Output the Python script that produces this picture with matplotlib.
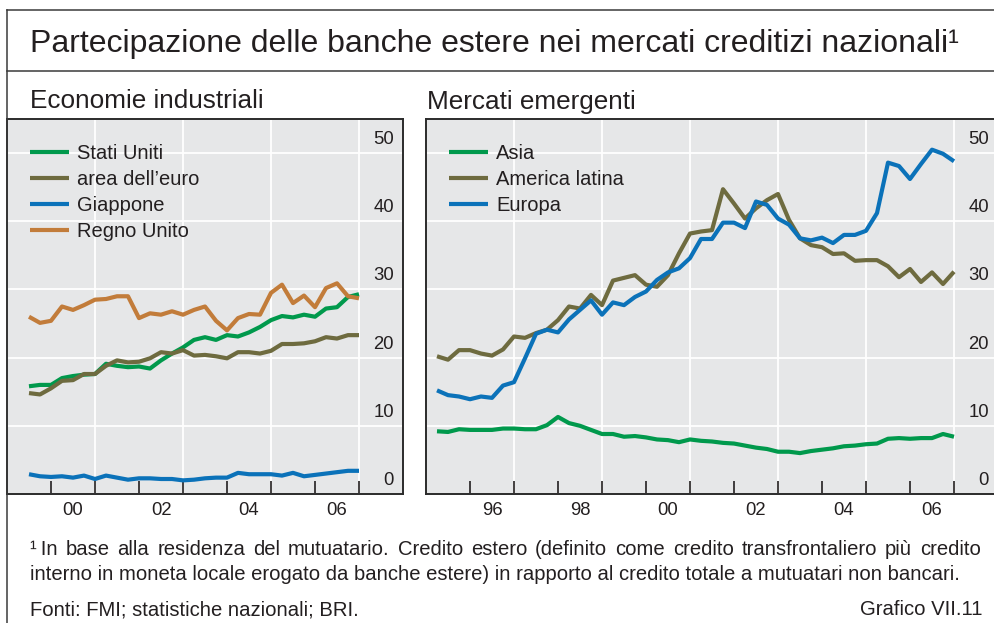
import numpy as np
import matplotlib.pyplot as plt
import matplotlib.transforms as mtransforms
from matplotlib.lines import Line2D

plt.rcParams['font.family'] = ['Liberation Sans', 'DejaVu Sans']

# --- dati: quota di credito estero, % ---
# economie industriali, trimestrale 1999 T3 - 2007 T1
ind_quarters = 1999.5 + 0.25 * np.arange(31)
stati_uniti = [15.8, 16.0, 16.0, 17.0, 17.3, 17.5, 17.6, 19.1, 18.8, 18.6, 18.7,
               18.4, 19.6, 20.6, 21.5, 22.6, 23.0, 22.6, 23.3, 23.1, 23.7, 24.5,
               25.5, 26.1, 25.9, 26.3, 26.0, 27.2, 27.4, 28.9, 29.3]
area_euro = [14.8, 14.6, 15.5, 16.6, 16.7, 17.6, 17.6, 18.8, 19.6, 19.3, 19.4,
             19.9, 20.8, 20.6, 21.1, 20.3, 20.4, 20.2, 19.9, 20.8, 20.8, 20.6,
             21.0, 22.0, 22.0, 22.1, 22.4, 23.0, 22.8, 23.3, 23.3]
giappone = [2.9, 2.6, 2.5, 2.6, 2.4, 2.7, 2.2, 2.7, 2.4, 2.1, 2.3, 2.3, 2.2, 2.2,
            2.0, 2.1, 2.3, 2.4, 2.4, 3.1, 2.9, 2.9, 2.9, 2.7, 3.1, 2.6, 2.8, 3.0,
            3.2, 3.4, 3.4]
regno_unito = [26.0, 25.1, 25.4, 27.5, 27.0, 27.7, 28.5, 28.6, 29.0, 29.0, 25.8,
               26.5, 26.3, 26.8, 26.3, 27.0, 27.5, 25.4, 24.0, 25.8, 26.4, 26.3,
               29.5, 30.7, 28.0, 29.1, 27.4, 30.2, 30.9, 29.0, 28.7]

# mercati emergenti, trimestrale 1995 T2 - 2007 T1
em_quarters = 1995.25 + 0.25 * np.arange(48)
asia = [9.2, 9.1, 9.5, 9.4, 9.4, 9.4, 9.6, 9.6, 9.5, 9.5, 10.1, 11.3, 10.4, 10.0,
        9.4, 8.8, 8.8, 8.4, 8.5, 8.3, 8.0, 7.9, 7.6, 8.0, 7.8, 7.7, 7.5, 7.4,
        7.1, 6.8, 6.6, 6.2, 6.2, 6.0, 6.3, 6.5, 6.7, 7.0, 7.1, 7.3, 7.4, 8.1,
        8.2, 8.1, 8.2, 8.2, 8.8, 8.4]
america_latina = [20.2, 19.7, 21.1, 21.1, 20.6, 20.3, 21.2, 23.1, 22.9, 23.6, 24.1,
                  25.5, 27.5, 27.2, 29.2, 27.7, 31.3, 31.7, 32.1, 30.7, 30.4, 32.1,
                  35.3, 38.2, 38.5, 38.7, 44.7, 42.6, 40.4, 41.9, 43.1, 44.0, 40.2,
                  37.5, 36.5, 36.2, 35.2, 35.3, 34.2, 34.3, 34.3, 33.4, 31.8, 33.0,
                  31.1, 32.5, 30.8, 32.6]
europa = [15.2, 14.5, 14.3, 13.9, 14.3, 14.1, 15.9, 16.4, 19.9, 23.5, 24.1, 23.7,
          25.6, 27.0, 28.4, 26.3, 28.1, 27.7, 28.9, 29.7, 31.4, 32.5, 33.1, 34.6,
          37.4, 37.4, 39.8, 39.8, 39.0, 42.9, 42.4, 40.4, 39.5, 37.5, 37.2, 37.6,
          36.8, 38.0, 38.0, 38.6, 41.2, 48.6, 48.1, 46.2, 48.4, 50.5, 49.9, 48.8]

y_ticks = [0, 10, 20, 30, 40, 50]

GREEN = '#00994C'
OLIVE = '#6E6B3F'
BLUE = '#0B72B9'
ORANGE = '#C27C3A'
TXT = '#231F20'
BG = '#E6E7E8'

W, H = 994, 623
fig = plt.figure(figsize=(W / 100, H / 100), dpi=100)


def panel(left_px, width_px, x0, first_tick, series, labels, colors):
    ax = fig.add_axes([left_px / W, 1 - 494 / H, width_px / W, 375 / H])
    ax.set_facecolor(BG)
    for y, lab, c in zip(series, labels, colors):
        ax.plot(y[0], y[1], color=c, lw=3.0, label=lab, solid_capstyle='butt')
    ax.set_xlim(x0, 2008)
    ax.set_ylim(0, 55)

    # griglia bianca
    ax.set_axisbelow(True)
    ax.set_yticks(y_ticks)
    ax.grid(axis='y', color='white', lw=1.3)
    for yr in range(first_tick + 1, 2008, 2):
        ax.axvline(yr, color='white', lw=1.3, zorder=0.5)

    # tacche annuali, etichette a metà anno
    ax.set_xticks(range(first_tick, 2008))
    ax.set_xticklabels([])
    mids = [yr + 0.5 for yr in range(first_tick, 2007) if yr % 2 == 0]
    ax.set_xticks(mids, minor=True)
    ax.set_xticklabels(['%02d' % (int(m) % 100) for m in mids], minor=True)
    ax.tick_params(axis='x', which='major', direction='in', length=9.5,
                   width=1.2, color=TXT)
    ax.tick_params(axis='x', which='minor', length=0, pad=5.5, labelsize=13.3,
                   labelcolor=TXT)

    ax.yaxis.tick_right()
    ax.tick_params(axis='y', length=0, pad=-6.5, labelsize=13.3, labelcolor=TXT)
    up = mtransforms.ScaledTranslation(0, 0.09, fig.dpi_scale_trans)
    for lbl in ax.get_yticklabels():
        lbl.set_horizontalalignment('right')
        lbl.set_verticalalignment('baseline')
        lbl.set_transform(lbl.get_transform() + up)

    for sp in ax.spines.values():
        sp.set_color('#2b2b2b')
        sp.set_linewidth(1.4)
        sp.set_zorder(5)

    ax.legend(loc='upper left', bbox_to_anchor=(23 / width_px, 1 - 25 / 375),
              frameon=False, fontsize=14.5, handlelength=1.95, handletextpad=0.4,
              labelspacing=0.35, borderaxespad=0, borderpad=0,
              labelcolor=TXT)
    return ax


panel(7, 396, 1999, 2000,
      [(ind_quarters, stati_uniti), (ind_quarters, area_euro),
       (ind_quarters, giappone), (ind_quarters, regno_unito)],
      ['Stati Uniti', 'area dell\u2019euro', 'Giappone', 'Regno Unito'],
      [GREEN, OLIVE, BLUE, ORANGE])

panel(426, 572, 1995, 1996,
      [(em_quarters, asia), (em_quarters, america_latina), (em_quarters, europa)],
      ['Asia', 'America latina', 'Europa'],
      [GREEN, OLIVE, BLUE])

# cornice esterna
for xs, ys in [((7, W), (10, 10)), ((7, W), (70.5, 70.5)), ((7, 7), (10, H))]:
    fig.add_artist(Line2D([x / W for x in xs], [1 - y / H for y in ys],
                          color='#3a3a3a', lw=1.1))

fig.text(30 / W, 1 - 52 / H,
         'Partecipazione delle banche estere nei mercati creditizi nazionali\u00b9',
         fontsize=23, color=TXT, va='baseline')
fig.text(30 / W, 1 - 108.5 / H, 'Economie industriali', fontsize=18.8,
         color=TXT, va='baseline')
fig.text(427 / W, 1 - 108.5 / H, 'Mercati emergenti', fontsize=18.8,
         color=TXT, va='baseline')

foot = dict(fontsize=14.6, color=TXT, va='baseline')


def justified(line, x0, x1, ypx):
    # riga giustificata: parole distribuite tra x0 e x1
    words = [fig.text(x0 / W, 1 - ypx / H, w, **foot) for w in line.split(' ')]
    r = fig.canvas.get_renderer()
    widths = [t.get_window_extent(r).width for t in words]
    gap = (x1 - x0 - sum(widths)) / (len(words) - 1)
    x = x0
    for t, w in zip(words, widths):
        t.set_x(x / W)
        x += w + gap


justified('\u00b9\u2009In base alla residenza del mutuatario. Credito estero '
          '(definito come credito transfrontaliero più credito', 30, 981, 555)
fig.text(30 / W, 1 - 580 / H,
         'interno in moneta locale erogato da banche estere) in rapporto al credito '
         'totale a mutuatari non bancari.', **foot)
fig.text(30 / W, 1 - 615 / H, 'Fonti: FMI; statistiche nazionali; BRI.', **foot)
fig.text(983 / W, 1 - 615 / H, 'Grafico VII.11', ha='right', **foot)

fig.savefig('out.png', dpi=100)
